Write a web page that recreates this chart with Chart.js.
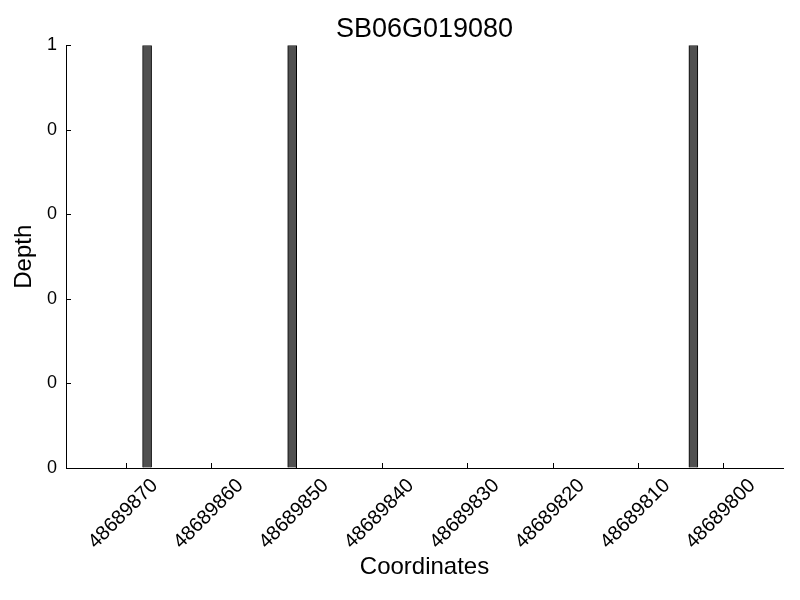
<!DOCTYPE html>
<html>
<head>
<meta charset="utf-8">
<script src="https://cdn.jsdelivr.net/npm/chart.js@4"></script>
<style>
    html, body { margin: 0; padding: 0; background: #fff; }
    #wrap { width: 800px; height: 600px; }
</style>
</head>
<body>
<div id="wrap"><canvas id="depth-chart" width="800" height="600"></canvas></div>
<script>
const chartTitle = 'SB06G019080';
const coordinates = [48689867, 48689850, 48689803];
const depths = [1, 1, 1];
const xRange = [48689793, 48689877];
const xStep = 10;
const yRange = [0, 1];
const yStep = 0.2;

const FONT = "'Liberation Sans', Arial, sans-serif";
Chart.defaults.font.family = FONT;
Chart.defaults.color = '#000';

// matplotlib style ticks pointing into the plot
const inwardTicks = {
    id: 'inwardTicks',
    afterDraw(chart) {
        const { ctx, chartArea, scales } = chart;
        ctx.save();
        ctx.strokeStyle = '#000';
        ctx.lineWidth = 1;
        ctx.beginPath();
        for (const t of scales.x.ticks) {
            const px = Math.round(scales.x.getPixelForValue(t.value)) + 0.5;
            ctx.moveTo(px, chartArea.bottom);
            ctx.lineTo(px, chartArea.bottom - 5);
        }
        for (const t of scales.y.ticks) {
            const py = Math.round(scales.y.getPixelForValue(t.value)) + 0.5;
            ctx.moveTo(chartArea.left, py);
            ctx.lineTo(chartArea.left + 5, py);
        }
        ctx.stroke();
        ctx.restore();
    }
};

const ctx = document.getElementById('depth-chart');

new Chart(ctx, {
    type: 'bar',
    data: {
        datasets: [{
            label: 'Depth',
            // each bar covers [coord, coord + 1]
            data: coordinates.map((c, i) => ({ x: c + 0.5, y: depths[i] })),
            backgroundColor: '#505050',
            borderColor: '#000',
            borderWidth: 1,
            borderSkipped: 'start',
            barThickness: 9
        }]
    },
    plugins: [inwardTicks],
    options: {
        responsive: false,
        animation: false,
        layout: { padding: { left: 0, right: 17, top: 0, bottom: 0 } },
        plugins: {
            legend: { display: false },
            tooltip: { enabled: false },
            title: {
                display: true,
                fullSize: false,
                text: chartTitle,
                color: '#000',
                font: { size: 27, weight: 'normal' },
                padding: { top: 13, bottom: 0 }
            }
        },
        scales: {
            x: {
                type: 'linear',
                reverse: true,
                offset: false,
                min: xRange[0],
                max: xRange[1],
                grid: { drawOnChartArea: false, drawTicks: false },
                border: { display: true, color: '#000', width: 1 },
                ticks: {
                    stepSize: xStep,
                    includeBounds: false,
                    autoSkip: false,
                    minRotation: 45,
                    maxRotation: 45,
                    padding: 6,
                    labelOffset: 29,
                    font: { size: 20 },
                    callback: v => String(v)
                },
                title: {
                    display: true,
                    text: 'Coordinates',
                    font: { size: 24 },
                    padding: { top: 0, bottom: 18 }
                },
                afterFit(scale) { scale.height = 132; }
            },
            y: {
                min: yRange[0],
                max: yRange[1],
                grid: { drawOnChartArea: false, drawTicks: false },
                border: { display: true, color: '#000', width: 1 },
                ticks: {
                    stepSize: yStep,
                    padding: 9,
                    font: { size: 18 },
                    callback: v => String(Math.trunc(v + 1e-9))
                },
                title: {
                    display: true,
                    text: 'Depth',
                    font: { size: 24 },
                    padding: { top: 10, bottom: 0 }
                },
                afterFit(scale) { scale.width = 66; }
            }
        }
    }
});
</script>
</body>
</html>
